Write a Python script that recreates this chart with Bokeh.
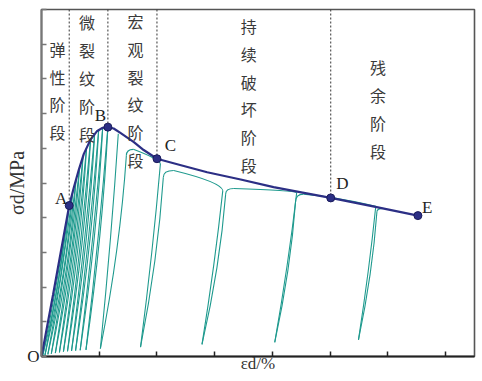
import numpy as np
from bokeh.plotting import figure
from bokeh.models import FixedTicker, Label, ColumnDataSource, Range1d, CustomLabelingPolicy
from bokeh.core.properties import value
from bokeh.embed import file_html
from bokeh.resources import INLINE

# ---------------- data ----------------
x_ticks = [0, 1, 2, 3, 4, 5, 6, 7]
y_ticks = [0, 1, 2, 3, 4, 5, 6, 7, 8, 9, 10]
origin_label = "O"
x_title = "εd/%"
y_title = "σd/MPa"

# envelope (full stress-strain curve)
env_x = [0, 0.20, 0.386, 0.48, 0.56, 0.646, 0.733, 0.849, 0.965, 1.06, 1.15, 1.25,
         1.36, 1.60, 1.77, 2.00, 2.40, 2.87, 3.45, 4.02, 4.50, 5.01, 5.70, 6.52]
env_y = [0, 1.78, 3.49, 4.35, 4.87, 5.38, 5.84, 6.25, 6.50, 6.59, 6.61, 6.57,
         6.45, 6.18, 5.95, 5.70, 5.52, 5.31, 5.10, 4.88, 4.73, 4.57, 4.34, 4.06]

# characteristic points
pt_names = ["A", "B", "C", "D", "E"]
pt_x = [0.48, 1.15, 2.00, 5.01, 6.52]
pt_y = [4.35, 6.61, 5.70, 4.57, 4.06]
lbl_x = [0.341, 1.022, 2.234, 5.21, 6.68]
lbl_y = [4.553, 6.945, 6.08, 4.985, 4.29]

# pre-peak cycles (unload from envelope, reload back to it)
pre_top_x = [0.42, 0.48, 0.54, 0.60, 0.66, 0.72, 0.78, 0.85, 0.92, 0.99, 1.06, 1.15]
pre_top_y = [3.80, 4.35, 4.74, 5.11, 5.45, 5.77, 6.01, 6.25, 6.40, 6.52, 6.59, 6.61]
pre_bot_x = [0.02, 0.06, 0.11, 0.17, 0.24, 0.31, 0.38, 0.45, 0.52, 0.59, 0.67, 0.77]
pre_bot_y = [0.02, 0.04, 0.06, 0.08, 0.10, 0.12, 0.14, 0.15, 0.16, 0.17, 0.18, 0.19]

# post-peak cycles
post_top_x = [1.33, 2.06, 3.14, 4.42, 5.79]
post_top_y = [6.42, 5.56, 4.78, 4.72, 4.33]
post_bot_x = [1.02, 1.715, 2.78, 4.04, 5.49]
post_bot_y = [0.23, 0.27, 0.35, 0.41, 0.48]
post_rel_x = [1.47, 2.11, 3.19, 4.40, 5.81]
post_rel_y = [5.79, 5.16, 4.68, 4.45, 4.17]
post_join_x = [1.59, 2.29, 3.33, 4.54, 5.92]
post_join_y = [5.97, 5.36, 4.84, 4.68, 4.27]
plat_cx = [2.02, 3.12, 4.38, 5.00]
plat_cy = [5.70, 5.02, 4.78, 4.62]

# stage labels
stage_text = ["弹性阶段", "微裂纹阶段", "宏观裂纹阶段", "持续破坏阶段", "残余阶段"]
stage_x = [0.277, 0.79, 1.63, 3.59, 5.83]
stage_y = [7.666, 8.026, 7.666, 7.52, 7.13]

# dashed boundary lines (from top of plot down to the points A..D)
dash_x = pt_x[:4]
dash_y = pt_y[:4]

TEAL = "#1f9a8e"
BLUE = "#2c2f85"
TXT = "#333333"
SERIF = "Liberation Serif"

# ---------------- figure ----------------
p = figure(width=482, height=381, x_range=Range1d(0, 7.5), y_range=Range1d(0, 10),
           output_backend="svg", toolbar_location=None,
           min_border_left=41, min_border_right=8, min_border_top=9, min_border_bottom=25)
p.background_fill_color = "white"
p.border_fill_color = "white"
p.xgrid.visible = False
p.ygrid.visible = False
p.outline_line_color = "#555555"
p.outline_line_width = 1.6

for ax, ticks, col in ((p.xaxis, x_ticks, "#222222"), (p.yaxis, y_ticks, "#777777")):
    ax.ticker = FixedTicker(ticks=ticks)
    ax.major_tick_in = 5
    ax.major_tick_out = 0
    ax.minor_tick_line_color = None
    ax.axis_line_color = col
    ax.axis_line_width = 2
    ax.major_tick_line_color = col
    ax.major_tick_line_width = 1.5
    ax.axis_label_text_font = SERIF
    ax.axis_label_text_font_style = "normal"
    ax.axis_label_text_color = TXT

# x axis: no tick labels
p.xaxis.major_label_text_font_size = "0px"
p.xaxis.major_label_standoff = 0
p.xaxis.major_label_overrides = {t: "" for t in x_ticks}
p.xaxis.major_label_policy = CustomLabelingPolicy(
    code="for (const i of indices) { indices.unset(i) }\nreturn indices")
p.xaxis.axis_label = x_title
p.xaxis.axis_label_text_font_size = "17px"
p.xaxis.axis_label_standoff = -3

# y axis: only the origin label "O"
y_over = {t: "" for t in y_ticks}
y_over[0] = origin_label
p.yaxis.major_label_overrides = y_over
p.yaxis.major_label_text_font = SERIF
p.yaxis.major_label_text_font_size = "17px"
p.yaxis.major_label_text_color = "#222222"
p.yaxis.major_label_standoff = 2
p.yaxis.major_label_policy = CustomLabelingPolicy(
    code="for (const i of indices) { if (i != 0) indices.unset(i) }\nreturn indices")
p.yaxis.axis_label = y_title
p.yaxis.axis_label_text_font_size = "20px"
p.yaxis.axis_label_standoff = -4

# ---- loops ----
def loop_sources(tx, ty, bx, by, rx, ry):
    tx, ty, bx, by, rx, ry = map(np.asarray, (tx, ty, bx, by, rx, ry))
    dx = tx - bx
    dy = ty - by
    unload = ColumnDataSource(dict(x0=tx, y0=ty, x1=bx, y1=by,
                                   cx=tx - 0.38 * dx, cy=by + 0.52 * dy))
    dxr = rx - bx
    dyr = ry - by
    reload = ColumnDataSource(dict(x0=bx, y0=by, x1=rx, y1=ry,
                                   cx=rx - 0.24 * dxr, cy=by + 0.52 * dyr))
    return unload, reload

u1, r1 = loop_sources(pre_top_x, pre_top_y, pre_bot_x, pre_bot_y, pre_top_x, pre_top_y)
u2, r2 = loop_sources(post_top_x, post_top_y, post_bot_x, post_bot_y, post_rel_x, post_rel_y)
for src in (u1, r1, u2, r2):
    p.quadratic(x0="x0", y0="y0", x1="x1", y1="y1", cx="cx", cy="cy", source=src,
                line_color=TEAL, line_width=1.1)

# hooks after reloading (post-peak)
hook = ColumnDataSource(dict(x0=post_rel_x, y0=post_rel_y, x1=post_join_x, y1=post_join_y,
                             cx=post_rel_x, cy=post_join_y))
p.quadratic(x0="x0", y0="y0", x1="x1", y1="y1", cx="cx", cy="cy", source=hook,
            line_color=TEAL, line_width=1.1)
# plateaus to next unloading point
plat = ColumnDataSource(dict(x0=post_join_x[:4], y0=post_join_y[:4],
                             x1=post_top_x[1:], y1=post_top_y[1:], cx=plat_cx, cy=plat_cy))
p.quadratic(x0="x0", y0="y0", x1="x1", y1="y1", cx="cx", cy="cy", source=plat,
            line_color=TEAL, line_width=1.1)

# ---- dashed boundaries ----
p.segment(x0=dash_x, y0=[10] * 4, x1=dash_x, y1=dash_y, line_color="#333333",
          line_width=1, line_dash="2 2")

# ---- envelope ----
p.line(env_x, env_y, line_color=BLUE, line_width=2.2)
p.scatter(pt_x, pt_y, size=8, fill_color=BLUE, line_color="#1b1c5c", line_width=1)

# ---- stage labels (vertical text) ----
p.text(x=stage_x, y=stage_y, text=["\n".join(s) for s in stage_text],
       text_align="center", text_baseline="middle",
       text_font=value("Noto Sans CJK SC"), text_font_size="16px", text_color="#3a3a3a",
       text_line_height=1.16)

# ---- point letters ----
for t, x, y in zip(pt_names, lbl_x, lbl_y):
    p.add_layout(Label(x=x, y=y, text=t, text_align="center", text_baseline="middle",
                       text_font=SERIF, text_font_size="17px", text_color="#222222"))

open("out.html", "w").write(file_html(p, INLINE))
